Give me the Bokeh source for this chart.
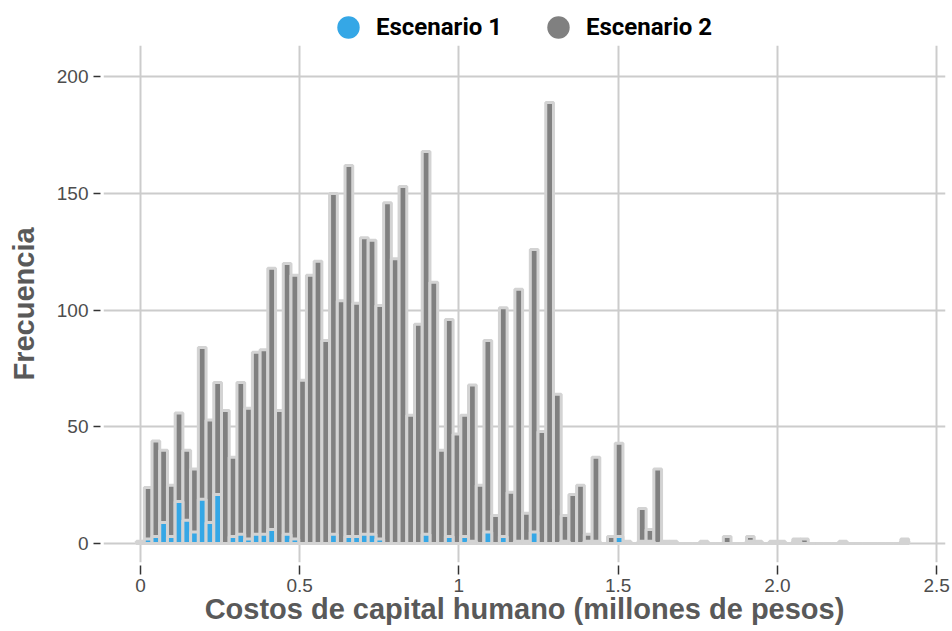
from bokeh.plotting import figure
from bokeh.layouts import column
from bokeh.models import Range1d, FixedTicker, Legend, LegendItem
from bokeh.embed import file_html
from bokeh.resources import INLINE

# ---- data ----
bin_width = 2.4 / 99
bin_index = list(range(100))

escenario2 = [1, 24, 44, 40, 25, 56, 40, 32, 84, 53,
              69, 57, 37, 69, 58, 82, 83, 118, 57, 120,
              115, 70, 115, 121, 87, 150, 104, 162, 103, 131,
              130, 102, 146, 122, 153, 55, 94, 168, 112, 40,
              96, 47, 55, 68, 25, 87, 12, 101, 22, 109,
              13, 126, 48, 189, 64, 12, 21, 25, 4, 37,
              0, 3, 43, 1, 0, 15, 6, 32, 1, 1,
              0, 0, 0, 1, 0, 0, 3, 0, 0, 3,
              1, 0, 1, 1, 0, 2, 2, 0, 0, 0,
              0, 1, 0, 0, 0, 0, 0, 0, 0, 2]

escenario1 = [0, 2, 3, 9, 3, 18, 10, 5, 19, 9,
              21, 0, 3, 4, 2, 4, 4, 6, 0, 4,
              2, 0, 0, 0, 0, 4, 0, 3, 3, 4,
              4, 2, 0, 0, 0, 0, 0, 4, 0, 0,
              3, 0, 3, 1, 0, 5, 0, 3, 0, 1,
              1, 5, 0, 0, 0, 1, 0, 0, 1, 1,
              0, 0, 3, 0, 0, 1, 1, 0, 0, 0,
              0, 0, 0, 0, 0, 0, 0, 0, 0, 1,
              0, 0, 0, 0, 0, 1, 0, 0, 0, 0,
              0, 0, 0, 0, 0, 0, 0, 0, 0, 1]

x_ticks = [0, 0.5, 1, 1.5, 2, 2.5]
x_tick_labels = ["0", "0.5", "1", "1.5", "2.0", "2.5"]
y_ticks = [0, 50, 100, 150, 200]
series_names = ["Escenario 1", "Escenario 2"]

centers = [i * bin_width for i in bin_index]

BLUE = "#35A7E6"
GRAY = "#808080"
OUTLINE = "#d3d3d3"

# ---------- legend strip ----------
lg = figure(width=952, height=45, output_backend="svg", toolbar_location=None,
            x_range=Range1d(0, 1), y_range=Range1d(0, 1),
            x_axis_type=None, y_axis_type=None,
            min_border_left=0, min_border_right=0, min_border_top=0,
            min_border_bottom=0)
lg.outline_line_color = None
lg.grid.visible = False
# proxy renderers for the legend keys (their single point lies outside the view)
l1 = lg.scatter(x=[-5], y=[-5], marker="circle", fill_color=BLUE, line_color=None)
l2 = lg.scatter(x=[-5], y=[-5], marker="circle", fill_color=GRAY, line_color=None)
legend = Legend(items=[LegendItem(label=series_names[0], renderers=[l1]),
                       LegendItem(label=series_names[1], renderers=[l2])],
                orientation="horizontal", location=(217, -10),
                glyph_width=56, glyph_height=56, padding=0, margin=0,
                spacing=28, label_standoff=0,
                border_line_color=None, background_fill_alpha=0,
                label_text_font="Roboto", label_text_font_style="bold",
                label_text_font_size="24px", label_text_color="black")
lg.add_layout(legend)

# ---------- main histogram ----------
p = figure(width=952, height=586, output_backend="svg", toolbar_location=None,
           x_range=Range1d(-0.116, 2.528), y_range=Range1d(-8.1, 213.4),
           min_border_left=103, min_border_right=7, min_border_top=0,
           min_border_bottom=69)
p.outline_line_color = None
p.background_fill_color = "white"
p.border_fill_color = "white"

r2 = p.vbar(x=centers, width=bin_width, top=escenario2, bottom=0,
            fill_color=GRAY, line_color=OUTLINE, line_width=3)
r1 = p.vbar(x=centers, width=bin_width, top=escenario1, bottom=0,
            fill_color=BLUE, line_color=OUTLINE, line_width=3)

# grids
p.xgrid.ticker = FixedTicker(ticks=x_ticks)
p.ygrid.ticker = FixedTicker(ticks=y_ticks)
for g in (p.xgrid, p.ygrid):
    g.grid_line_color = "#cccccc"
    g.grid_line_width = 2
    g.minor_grid_line_color = None

# x axis
xa = p.xaxis[0]
xa.ticker = FixedTicker(ticks=x_ticks)
xa.major_label_overrides = {t: s for t, s in zip(x_ticks, x_tick_labels)}
xa.axis_line_color = None
xa.major_tick_line_color = "#333333"
xa.major_tick_line_width = 1.5
xa.major_tick_in = -3
xa.major_tick_out = 12
xa.minor_tick_line_color = None
xa.major_label_text_font = "Liberation Sans"
xa.major_label_text_font_size = "19px"
xa.major_label_text_color = "#4d4d4d"
xa.major_label_standoff = 4
xa.axis_label = "Costos de capital humano (millones de pesos)"
xa.axis_label_text_font = "Liberation Sans"
xa.axis_label_text_font_style = "bold"
xa.axis_label_text_font_size = "29px"
xa.axis_label_text_color = "#595959"
xa.axis_label_standoff = -2

# y axis
ya = p.yaxis[0]
ya.ticker = FixedTicker(ticks=y_ticks)
ya.axis_line_color = None
ya.major_tick_line_color = "#333333"
ya.major_tick_line_width = 1.5
ya.major_tick_in = -3
ya.major_tick_out = 10
ya.minor_tick_line_color = None
ya.major_label_text_font = "Liberation Sans"
ya.major_label_text_font_size = "19px"
ya.major_label_text_color = "#4d4d4d"
ya.major_label_standoff = 5
ya.axis_label = "Frecuencia"
ya.axis_label_text_font = "Liberation Sans"
ya.axis_label_text_font_style = "bold"
ya.axis_label_text_font_size = "29px"
ya.axis_label_text_color = "#595959"
ya.axis_label_standoff = 14

layout = column(lg, p, spacing=0)
open("out.html", "w").write(file_html(layout, INLINE))
